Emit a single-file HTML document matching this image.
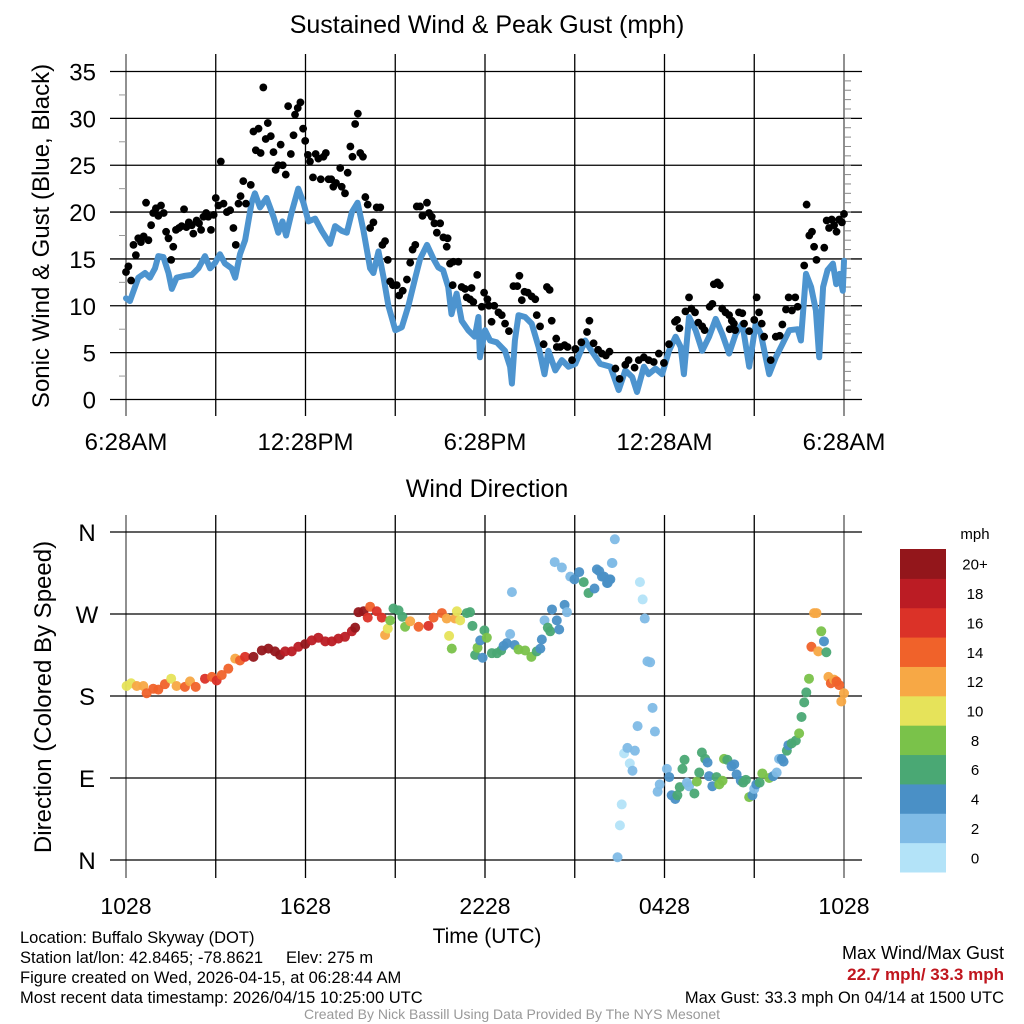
<!DOCTYPE html>
<html><head><meta charset="utf-8"><style>
body{margin:0;background:#fff;}
svg{display:block;font-family:"Liberation Sans",sans-serif;}
</style></head><body>
<svg id="c" width="1024" height="1024" viewBox="0 0 1024 1024"></svg>
<script>
// ---- data ----
const windHours=[0,0.13,0.41,0.64,0.80,0.97,1.08,1.25,1.42,1.53,1.69,1.97,2.20,2.42,2.64,2.81,2.98,3.14,3.31,3.53,3.65,3.81,3.98,4.2,4.31,4.48,4.7,4.93,5.09,5.23,5.35,5.54,5.76,5.93,6.1,6.32,6.54,6.82,6.99,7.21,7.38,7.55,7.74,7.94,8.16,8.27,8.44,8.61,8.77,9.0,9.22,9.44,9.67,9.83,10.06,10.28,10.44,10.6,10.77,10.88,11.05,11.22,11.44,11.66,11.78,11.83,12,12.17,12.39,12.67,12.84,12.9,13.0,13.12,13.34,13.56,13.79,13.99,14.12,14.35,14.57,14.79,15.02,15.35,15.58,15.85,16.19,16.47,16.69,16.92,17.08,17.31,17.47,17.7,17.92,18.15,18.37,18.54,18.65,18.82,19.04,19.26,19.49,19.71,19.93,20.16,20.38,20.6,20.83,21.05,21.22,21.5,21.72,21.94,22.17,22.45,22.56,22.73,22.9,23.06,23.17,23.3,23.45,23.63,23.74,23.85,23.96,24];
const windSpeed=[10.8,10.5,13,13.5,13,14,15.3,15.2,13.5,11.8,13,13.2,13.3,14,15.3,14,14.6,15.5,14.5,14,13,15.5,17,21,22,20.5,21.5,19.5,17.8,19,17.5,20,22.5,21,19,19.3,18,16.6,18.5,18,17.8,20,21,18,14,13.5,15.8,13,10,7.4,7.7,10,13,15,16.5,15,14.1,13.8,12,9.1,11.3,8.4,7.4,6.7,8.8,4.5,7.4,6.3,6.1,5.2,3.5,1.7,6.3,9,8.8,8.1,5.6,2.7,5.2,3.1,4.2,3.5,3.8,6.3,5.1,3.8,3.5,1.0,3.1,2.4,0.8,3.5,2.7,3.3,2.7,5.2,6.7,5.6,2.7,8.8,7.4,5.2,6.7,8.6,7,4.9,7,8.1,3.5,8.1,7,2.7,4.5,5.9,7.4,7.5,6.3,13.4,12,9.5,4.5,12,13.8,14.5,12.3,13.4,11.6,14.8];
const gustHours=[0,0.08,0.17,0.25,0.33,0.41,0.5,0.59,0.67,0.75,0.84,0.91,1.0,1.08,1.17,1.26,1.34,1.42,1.51,1.58,1.67,1.77,1.86,1.94,2.02,2.1,2.2,2.25,2.36,2.44,2.51,2.59,2.68,2.75,2.84,2.93,3.0,3.09,3.17,3.26,3.37,3.48,3.59,3.67,3.76,3.83,3.92,4.01,4.17,4.26,4.34,4.43,4.5,4.59,4.67,4.74,4.84,4.93,5.0,5.09,5.17,5.24,5.34,5.42,5.51,5.6,5.65,5.74,5.83,5.92,5.99,6.08,6.15,6.25,6.34,6.43,6.51,6.6,6.68,6.77,6.86,6.93,7.02,7.16,7.21,7.32,7.41,7.5,7.57,7.66,7.75,7.83,7.92,8.0,8.08,8.16,8.27,8.38,8.5,8.57,8.66,8.75,8.83,8.92,9.05,9.13,9.25,9.39,9.5,9.58,9.67,9.72,9.83,9.91,10.06,10.13,10.22,10.31,10.39,10.5,10.61,10.72,10.75,10.83,10.94,11.11,10.92,11.22,11.33,11.55,11.74,11.39,11.5,11.61,11.89,11.97,12.08,12.13,12.22,12.31,12.45,12.56,12.67,12.8,12.95,13.08,13.15,13.23,13.32,13.43,13.56,13.68,13.73,13.84,13.96,14.07,14.16,14.23,14.38,14.4,14.51,14.66,14.76,14.91,15.02,15.22,15.41,15.49,15.63,15.78,15.91,16.04,16.16,16.36,16.5,16.69,16.8,17.0,17.14,17.31,17.47,17.64,17.81,17.98,18.15,18.35,18.42,18.5,18.7,18.82,18.9,19.02,19.13,19.26,19.34,19.51,19.6,19.65,19.77,19.85,19.93,20.04,20.16,20.25,20.32,20.18,20.36,20.49,20.6,20.66,20.83,21.0,21.08,21.16,21.25,21.33,21.55,21.72,21.85,21.94,22.06,22.15,22.26,22.37,22.45,22.67,22.75,22.84,22.93,23.0,23.08,23.34,23.42,23.5,23.59,23.67,23.75,23.84,23.93,24];
const gustSpeed=[13.6,14.2,12.7,16.5,15.4,17.2,16.8,17.4,21,17,18.6,19.9,20.4,19.6,20.7,19.9,17.9,17.2,14.9,16.3,18.1,18.3,18.5,20.3,18.4,18.9,18.6,17.7,19.1,18.8,18.1,19.5,19.9,19.5,18.1,19.7,21.5,20.7,25.4,20.9,20,20.2,18.3,16.5,20.9,21.7,23.3,20.9,22.9,28.6,26.6,28.9,26.3,33.3,27.8,29.5,28.1,26.4,24.5,25,27.2,25,24,31.3,26.2,28.2,30.4,31.1,31.7,28.9,27.6,26.1,25.4,23.7,26.2,25.7,23.5,25.9,26.3,23.5,23.5,22.7,23.1,24.7,22.7,22,24.2,27,25.9,29.4,30.5,26.3,25.9,21.6,20.8,18.3,18.9,20.5,20.5,16.5,16.9,14.9,12.6,12.2,12.2,11.1,11.6,12.8,14.6,16,16.5,20.6,20.6,19.6,21,19.9,19.5,18.8,17.8,18.8,17.3,16.3,17.2,14.5,14.7,14.7,12.2,12,11.8,11.9,13.3,10.9,10.7,10.4,9.9,11.4,10.7,10,8.3,10,9.3,9,8.1,7.3,12.1,12.1,13.2,10.6,11.5,11.4,11,10.7,9,7.8,5.9,12,11.7,8.4,6.5,5.6,5.6,5.8,5.6,4.2,5.4,6.1,7.2,8.4,6,5.3,4.9,4.7,5.1,3.3,2.2,3.7,4.2,3.4,4.2,4.5,4.2,4,4.9,3.9,5.9,8.3,8.5,7.6,9.4,10.9,9.7,9.3,8.2,7.8,7.4,9.9,10.2,12.3,12.5,12.2,9.7,9.3,9,8.4,8.1,7.5,7.4,9.3,9.2,8.1,7.3,8.5,10.9,9.3,8.1,6.7,4.2,6.7,6.8,8,9.6,10.9,9.5,10.9,9.9,14.3,20.8,17.5,17.9,16.3,14.9,16.2,19.1,18.3,19.2,18.6,17.9,19.2,18.9,19.8];
const dirHours=[0.02,0.17,0.36,0.58,0.69,0.91,1.08,1.30,1.51,1.69,1.97,2.14,2.33,2.64,2.87,3.03,3.2,3.42,3.65,3.81,3.98,4.26,4.54,4.76,4.98,5.15,5.32,5.54,5.76,5.99,6.21,6.43,6.66,6.88,7.1,7.32,7.55,7.66,7.77,7.94,8.08,8.16,8.38,8.55,8.66,8.75,8.83,8.94,9.11,9.24,9.33,9.5,9.78,10.11,10.28,10.56,10.72,11.0,11.06,11.17,10.8,10.89,11.39,11.5,11.58,11.67,11.75,11.84,11.92,11.98,12.06,12.23,12.4,12.54,12.62,12.73,12.84,12.9,12.99,13.12,13.34,13.55,13.73,13.85,13.9,13.99,14.1,14.18,14.24,14.4,14.48,14.66,14.74,14.33,14.57,14.85,14.99,15.15,15.3,15.46,15.66,15.74,15.91,16.08,16.19,16.24,15.82,15.98,16.15,16.10,16.26,16.34,16.43,16.51,16.57,16.65,16.76,16.84,16.93,17.01,17.1,17.18,17.27,17.34,17.43,17.52,17.6,17.68,17.77,17.84,18.08,18.16,18.24,18.36,18.43,18.51,18.6,18.67,18.75,18.82,19.0,19.08,19.16,19.25,19.36,19.44,19.49,19.6,19.74,19.83,19.94,19.99,20.1,20.24,20.33,20.41,20.55,20.63,20.72,20.83,20.94,21.0,21.07,21.18,21.27,21.5,21.63,21.75,21.83,21.92,21.98,22.09,22.14,22.25,22.39,22.5,22.58,22.67,22.74,22.83,22.91,23.0,23.08,23.14,23.24,23.33,23.41,23.48,23.56,23.67,23.75,23.84,23.91,24.0];
const dirDegrees=[191,194,191,191,183,188,187,193,199,191,190,196,190,199,201,197,203,210,221,219,223,223,230,232,229,225,229,229,234,237,241,244,240,240,243,245,251,255,272,273,266,278,273,266,247,254,263,276,274,267,256,262,256,257,266,271,265,265,273,263,246,232,271,272,257,225,233,241,222,252,244,227,227,230,235,238,248,294,236,231,230,223,229,232,242,263,255,251,275,263,253,280,272,327,321,311,308,316,305,293,298,319,311,304,308,326,317,311,308,304,326,352,3,38,61,117,123,106,98,120,147,305,286,265,218,217,167,141,75,83,100,91,71,67,71,80,100,110,85,81,73,86,96,118,111,107,92,81,91,83,87,111,110,103,105,94,87,85,88,69,71,78,83,85,95,90,92,96,111,111,108,120,126,128,131,139,157,173,184,199,234,271,271,229,251,240,228,201,194,198,196,192,174,183];
const dirSpeed=[10,10,12,12,14,14,14,14,10,12,14,12,14,16,14,16,14,14,12,14,16,20,20,20,20,20,18,18,18,20,18,18,18,18,18,18,18,20,20,20,16,14,16,16,12,10,8,6,6,6,8,12,14,16,14,14,12,12,10,10,10,8,6,6,6,6,8,4,4,6,8,6,6,6,4,4,2,2,4,8,8,8,6,4,4,2,6,6,4,4,4,4,2,2,2,2,4,4,6,6,4,4,4,4,4,2,4,4,4,4,2,2,2,0,0,0,2,0,2,2,2,0,0,2,2,2,2,2,2,2,2,4,4,4,6,6,6,6,2,2,6,8,6,6,6,4,4,4,6,8,8,8,6,4,4,4,4,6,6,8,4,2,4,6,8,8,4,2,2,4,4,6,4,6,6,8,6,6,6,8,14,12,12,12,8,4,6,12,14,12,14,14,12,12,10,14];
const yTicks=[0,5,10,15,20,25,30,35];
const topXLabels=["6:28AM","12:28PM","6:28PM","12:28AM","6:28AM"];
const botXLabels=["1028","1628","2228","0428","1028"];
const dirLabels=["N","E","S","W","N"];
const binColors=["#b3e3f8","#7fbbe6","#4a90c6","#4aa874","#7ac24a","#e6e35a","#f7a845","#f0622a","#db3228","#bb1c24","#93161b"];
const binLabels=["0","2","4","6","8","10","12","14","16","18","20+"];

// ---- helpers ----
const NS="http://www.w3.org/2000/svg";
const svg=document.getElementById('c');
function mk(tag,attrs,parent){const e=document.createElementNS(NS,tag);for(const k in attrs)e.setAttribute(k,attrs[k]);(parent||svg).appendChild(e);return e;}
const X0=126,X1=844,L=110,R=862;
const xs=h=>X0+h*(X1-X0)/24;
const ySpd=v=>399.5-v*(328/35);
const yDir=d=>860-d*(328/360);

function txt(x,y,s,size,anchor,name,extra){const t=mk('text',Object.assign({x:x,y:y,'font-size':size,'text-anchor':anchor||'middle',fill:'#000'},extra||{}));t.textContent=s;return t;}

// ---- top panel ----
const topG=mk('g',{});


txt(487,33,"Sustained Wind & Peak Gust (mph)",25,'middle','top-title');
for(let i=0;i<=8;i++){const x=X0+i*(X1-X0)/8;const l=mk('line',{x1:x,x2:x,y1:54,y2:416,stroke:i%8==0?'#555':'#000','stroke-width':1.3},topG);}
yTicks.forEach(v=>{const y=ySpd(v);const l=mk('line',{x1:L,x2:R,y1:y,y2:y,stroke:'#000','stroke-width':1.3},topG);
txt(96,y+9,String(v),24,'end','y-tick-label');
if(v<35){const ym=ySpd(v+2.5);mk('line',{x1:119,x2:126,y1:ym,y2:ym,stroke:'#999','stroke-width':1},topG);}});
for(let v=1;v<35;v++){const y=ySpd(v);mk('line',{x1:844,x2:851,y1:y,y2:y,stroke:'#888','stroke-width':1},topG);}
topXLabels.forEach((s,i)=>txt(X0+i*(X1-X0)/4,450,s,24,'middle','top-x-tick-label'));
txt(0,0,"Sonic Wind & Gust (Blue, Black)",24,'middle','top-y-title',{transform:'translate(49,236) rotate(-90)'});
let d='';windHours.forEach((h,i)=>{d+=(i?'L':'M')+xs(h).toFixed(1)+','+ySpd(windSpeed[i]).toFixed(1);});
const wl=mk('path',{d:d,fill:'none',stroke:'#4d94cf','stroke-width':6,'stroke-linejoin':'round','stroke-linecap':'round'},topG);


gustHours.forEach((h,i)=>{const c=mk('circle',{cx:xs(h),cy:ySpd(gustSpeed[i]),r:3.9,fill:'#000'},topG);

});

// ---- bottom panel ----
const botG=mk('g',{});


txt(487,497,"Wind Direction",25,'middle','bottom-title');
for(let i=0;i<=8;i++){const x=X0+i*(X1-X0)/8;const l=mk('line',{x1:x,x2:x,y1:515,y2:878,stroke:i%8==0?'#555':'#000','stroke-width':1.3},botG);}
dirLabels.forEach((s,i)=>{const y=yDir(i*90);const l=mk('line',{x1:L,x2:R,y1:y,y2:y,stroke:'#000','stroke-width':1.3},botG);txt(87,y+9,s,24,'middle','direction-tick-label');});
botXLabels.forEach((s,i)=>txt(X0+i*(X1-X0)/4,914,s,23,'middle','bottom-x-tick-label'));
txt(487,943,"Time (UTC)",21,'middle','x-axis-title');
txt(0,0,"Direction (Colored By Speed)",24,'middle','bottom-y-title',{transform:'translate(51,697) rotate(-90)'});
dirHours.forEach((h,i)=>{const b=Math.max(0,Math.min(10,Math.floor(dirSpeed[i]/2)));const c=mk('circle',{cx:xs(h),cy:yDir(dirDegrees[i]),r:5,fill:binColors[b],'fill-opacity':0.95},botG);

});

// ---- colorbar ----
const cbG=mk('g',{});


txt(975,539,"mph",15,'middle','colorbar-title');
const segH=(872-549)/11;
binColors.forEach((col,i)=>{const y=872-(i+1)*segH;const r=mk('rect',{x:900,y:y,width:46,height:segH+0.5,fill:col},cbG);
txt(975,y+segH/2+6,binLabels[i],15,'middle','colorbar-label');});

// ---- footer ----
txt(20,943,"Location: Buffalo Skyway (DOT)",16.5,'start','location-text');
txt(20,963,"Station lat/lon: 42.8465; -78.8621\u00a0\u00a0\u00a0\u00a0 Elev: 275 m",16.5,'start','station-text');
txt(20,983,"Figure created on Wed, 2026-04-15, at 06:28:44 AM",16.5,'start','created-text');
txt(20,1003,"Most recent data timestamp: 2026/04/15 10:25:00 UTC",16.5,'start','timestamp-text');
txt(1004,959,"Max Wind/Max Gust",18,'end','max-label');
txt(1004,980,"22.7 mph/ 33.3 mph",17,'end','max-values',{fill:'#c0161e','font-weight':'bold'});
txt(1004,1003,"Max Gust: 33.3 mph On 04/14 at 1500 UTC",16.5,'end','max-gust-text');
txt(512,1019,"Created By Nick Bassill Using Data Provided By The NYS Mesonet",14,'middle','credit-text',{fill:'#999'});
</script>
</body></html>
